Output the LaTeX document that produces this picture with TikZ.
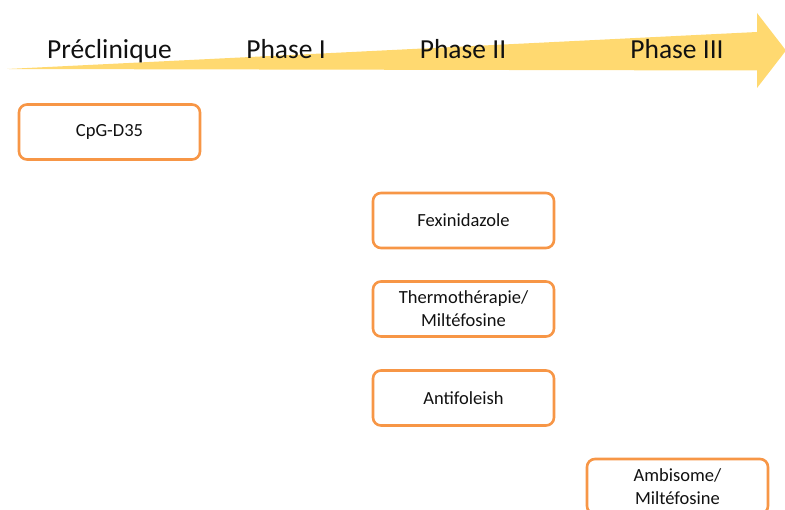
\documentclass[tikz,border=0pt]{standalone}
\usepackage{fontspec}
\setmainfont{Carlito}
\usepackage{xcolor}
\usetikzlibrary{positioning}
\definecolor{bandgold}{HTML}{FFD970}
\definecolor{cardorange}{HTML}{F79646}
\definecolor{ink}{HTML}{111111}
\tikzset{
  phase/.style={font=\fontsize{27.5}{32}\selectfont,text=ink,inner sep=0pt,anchor=base},
  drugcard/.style={draw=cardorange,fill=white,line width=2.6pt,rounded corners=8pt,
                   minimum width=181pt,minimum height=55pt,align=center,
                   font=\fontsize{18.5}{23}\selectfont,text=ink,inner sep=2pt}
}
\begin{document}
\begin{tikzpicture}[x=1pt,y=-1pt]
    \useasboundingbox (0,0) rectangle (785,510);
    \clip (0,0) rectangle (785,510);

    % timeline band
    \fill[bandgold] (7,69) -- (757,32) -- (757,13) -- (786,50.5)
      -- (757,88) -- (757,70.5) -- cycle;

    \node[phase] (precl) at (109.5,58.5) {Préclinique};
    \node[phase] (ph1) at (286,58.5) {Phase I};
    \node[phase] (ph2) at (463,58.5) {Phase II};
    \node[phase] (ph3) at (677,58.5) {Phase III};

    \node[drugcard] (cpg) at (109.5,132) {CpG-D35};
    \node[drugcard] (fexi) at (463.5,220.5) {Fexinidazole};
    \node[drugcard] (thermo) at (463.5,309) {Thermothérapie/\\Miltéfosine};
    \node[drugcard] (antifo) at (463.5,398) {Antifoleish};
    \node[drugcard] (ambi) at (677.5,486.5) {Ambisome/\\Miltéfosine};
  \end{tikzpicture}
\end{document}
